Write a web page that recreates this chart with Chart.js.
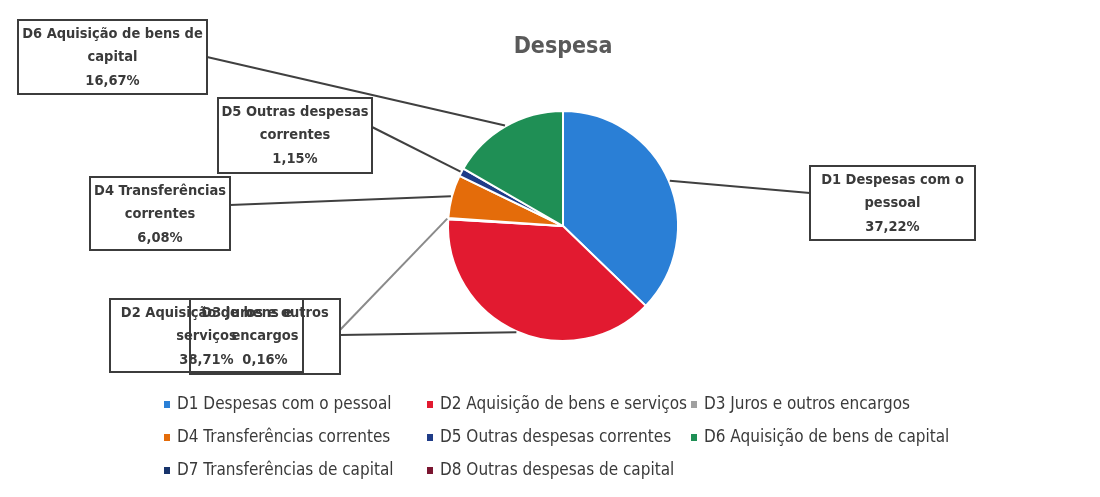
<!DOCTYPE html>
<html>
<head>
<meta charset="utf-8">
<script src="https://cdn.jsdelivr.net/npm/chart.js@4"></script>
<style>
  body { margin: 0; background: #fff; }
  #wrap { width: 1100px; height: 497px; }
</style>
</head>
<body>
<div id="wrap"><canvas id="chartDespesa"></canvas></div>
<script>
// dados
var categorias = [
    'D1 Despesas com o pessoal',
    'D2 Aquisição de bens e serviços',
    'D3 Juros e outros encargos',
    'D4 Transferências correntes',
    'D5 Outras despesas correntes',
    'D6 Aquisição de bens de capital',
    'D7 Transferências de capital',
    'D8 Outras despesas de capital'
];
var percentagens = [37.22, 38.71, 0.16, 6.08, 1.15, 16.67, 0, 0];
var cores = ['#2a7fd6', '#e21a30', '#a0a0a0', '#e46c0a', '#1f3c88', '#1f8f55', '#17336b', '#7a1530'];

// caixas das etiquetas (posicao na imagem)
var caixas = [
    { i: 0, x: 810, y: 166, w: 165, h: 74, ax: 810, ay: 193, quebra: 4 },
    { i: 1, x: 110, y: 299, w: 193, h: 73, ax: 340, ay: 335, quebra: 5 },
    { i: 2, x: 190, y: 299, w: 150, h: 75, ax: 340, ay: 330, quebra: 4 },
    { i: 3, x: 90, y: 177, w: 140, h: 73, ax: 230, ay: 205, quebra: 2 },
    { i: 4, x: 218, y: 98, w: 154, h: 75, ax: 372, ay: 127, quebra: 3 },
    { i: 5, x: 18, y: 20, w: 189, h: 74, ax: 207, ay: 57, quebra: 5 }
];

// colunas da legenda
var legendaX = [167, 430, 694];
var legendaY = [405, 438, 471];

var FONTE = '"DejaVu Sans Condensed", "Liberation Sans Narrow", sans-serif';

function fmt(v) {
    return v.toFixed(2).replace('.', ',') + '%';
}

var extras = {
    id: 'extras',
    afterDraw: function(chart) {
        var ctx = chart.ctx;
        var meta = chart.getDatasetMeta(0);
        ctx.save();

        // titulo
        ctx.fillStyle = '#595959';
        ctx.font = 'bold 23px ' + FONTE;
        ctx.textAlign = 'center';
        ctx.textBaseline = 'middle';
        ctx.fillText('Despesa', 563, 47);

        // linhas de ligacao
        caixas.forEach(function(c) {
            var arc = meta.data[c.i];
            var p = arc.getProps(['x', 'y', 'startAngle', 'endAngle', 'outerRadius'], true);
            var a = (p.startAngle + p.endAngle) / 2;
            var r = p.outerRadius + 1;
            ctx.beginPath();
            ctx.strokeStyle = c.i == 2 ? '#8a8a8a' : '#404040';
            ctx.lineWidth = 2;
            ctx.moveTo(p.x + Math.cos(a) * r, p.y + Math.sin(a) * r);
            ctx.lineTo(c.ax, c.ay);
            ctx.stroke();
        });

        // caixas
        caixas.forEach(function(c) {
            ctx.strokeStyle = '#3c3c3c';
            ctx.lineWidth = 2;
            ctx.strokeRect(c.x, c.y, c.w, c.h);
            var palavras = categorias[c.i].split(' ');
            var linhas = [palavras.slice(0, c.quebra).join(' '), palavras.slice(c.quebra).join(' '), fmt(percentagens[c.i])];
            ctx.fillStyle = '#3a3a3a';
            ctx.font = 'bold 14.5px ' + FONTE;
            ctx.textAlign = 'center';
            ctx.textBaseline = 'middle';
            linhas.forEach(function(t, k) {
                ctx.fillText(t, c.x + c.w / 2, c.y + 14 + k * 23.5);
            });
        });

        // legenda
        ctx.font = '17px ' + FONTE;
        ctx.textAlign = 'left';
        ctx.textBaseline = 'middle';
        categorias.forEach(function(nome, k) {
            var x = legendaX[k % 3];
            var y = legendaY[Math.floor(k / 3)];
            ctx.fillStyle = cores[k];
            ctx.fillRect(x - 3, y - 4, 6, 7);
            ctx.fillStyle = '#3a3a3a';
            ctx.fillText(nome, x + 10, y);
        });

        ctx.restore();
    }
};

document.addEventListener('DOMContentLoaded', function() {
    new Chart(document.getElementById('chartDespesa'), {
        type: 'pie',
        data: {
            labels: categorias,
            datasets: [{
                data: percentagens,
                backgroundColor: cores,
                borderColor: '#ffffff',
                borderWidth: 2
            }]
        },
        options: {
            responsive: true,
            maintainAspectRatio: false,
            animation: false,
            layout: {
                padding: { left: 447, right: 421, top: 110, bottom: 155 }
            },
            plugins: {
                legend: { display: false },
                tooltip: { enabled: false }
            }
        },
        plugins: [extras]
    });
});
</script>
</body>
</html>
